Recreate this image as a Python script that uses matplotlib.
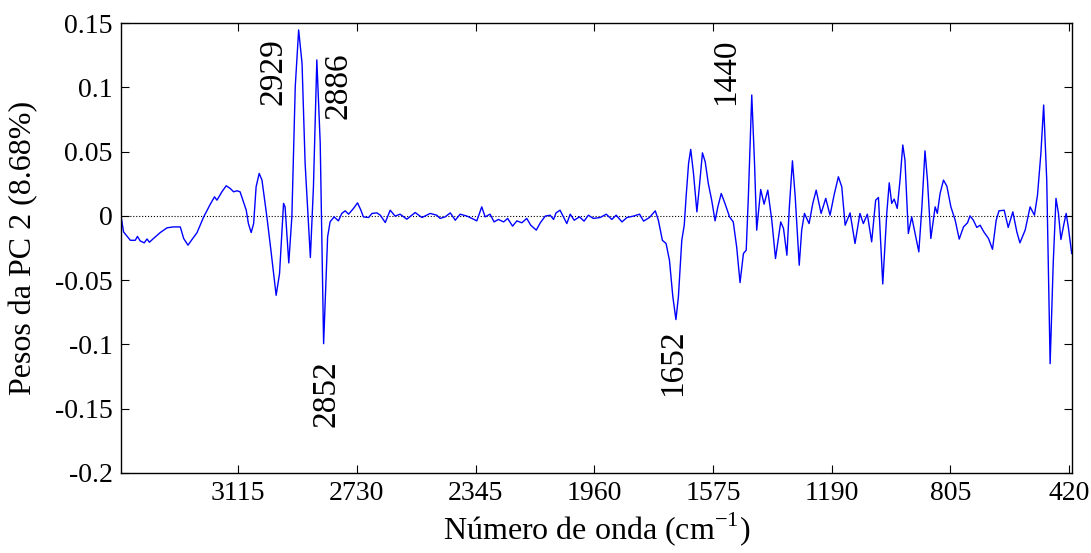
import matplotlib
matplotlib.use("Agg")
import matplotlib.pyplot as plt

# Wavenumber (cm-1) and PC2 loadings.
wavenumber = [
    3494, 3487, 3465, 3449, 3442, 3433, 3420, 3411, 3403, 3390, 3368, 3346, 3325,
    3303, 3292, 3278, 3265, 3249, 3227, 3206, 3192, 3184, 3168, 3154, 3141, 3130,
    3119, 3109, 3089, 3082, 3073, 3065, 3057, 3047, 3038, 3022, 3009, 2992, 2981,
    2968, 2963, 2951, 2941, 2930, 2919, 2908, 2898, 2881, 2871, 2860, 2849, 2838,
    2825, 2817, 2804, 2790, 2779, 2768, 2757, 2741, 2728, 2717, 2709,
    2692, 2681, 2665, 2654, 2638, 2622, 2606, 2590, 2568, 2541, 2519, 2492, 2471,
    2460, 2444, 2427, 2411, 2395, 2373, 2357, 2341, 2325, 2314, 2298, 2285, 2271,
    2254, 2241, 2225, 2211,
    2195, 2179, 2166, 2148, 2135, 2119, 2103, 2092, 2084, 2071, 2060, 2049, 2038,
    2025, 2008, 1993, 1979, 1963, 1941, 1921, 1903, 1889, 1870, 1854, 1833, 1813,
    1800, 1781, 1762, 1752, 1739, 1727, 1716, 1705, 1695, 1687, 1676, 1668, 1662,
    1654, 1647, 1638, 1627, 1619, 1609, 1600, 1590, 1579, 1568, 1559, 1548, 1536,
    1521, 1509, 1498, 1487, 1476, 1467, 1460, 1449, 1440, 1433, 1420, 1409, 1397,
    1384, 1372, 1355, 1346, 1335, 1327, 1317, 1308, 1295, 1287, 1278, 1263, 1251,
    1240, 1224, 1209, 1195, 1182, 1168, 1157, 1146, 1130, 1114, 1098, 1087, 1074,
    1060, 1047, 1038, 1024, 1011, 1003, 995, 987, 977, 968, 959, 952, 941, 930,
    919, 907, 897, 887, 879, 868, 854, 847, 838, 827, 816, 803, 789, 776, 762,
    749, 741, 730, 719, 708, 696, 681, 668, 656, 647, 630, 617, 602, 589, 579,
    562, 546, 532, 522, 511, 502, 492, 481, 471, 462, 454, 446, 436, 429, 422, 411,
]
loading = [
    -0.002, -0.0125, -0.019, -0.019, -0.016, -0.0195, -0.021, -0.018, -0.0205,
    -0.0176, -0.013, -0.0093, -0.0086, -0.0086, -0.0176, -0.0228, -0.0184, -0.0132,
    -0.0008, 0.0089, 0.0148, 0.0122, 0.0187, 0.0234, 0.0213, 0.0187, 0.0195,
    0.0187, 0.0044, -0.006, -0.013, -0.006, 0.0226, 0.033, 0.0278, -0.0008,
    -0.0267, -0.0618, -0.0449, 0.0097, 0.007, -0.0366, -0.0008, 0.1005, 0.1446,
    0.1187, 0.0408, -0.0324, 0.0226, 0.1213, 0.0564, -0.0994, -0.0164, -0.0047,
    -0.0008, -0.0039, 0.0019, 0.0039, 0.0013, 0.0058, 0.0101, 0.0044, -0.0008,
    -0.0013, 0.0019, 0.0023, 0.0005, -0.0052, 0.0044, -0.0002, 0.0013, -0.0026,
    0.0026, -0.0013, 0.0019, 0.0005, -0.002, -0.0008, 0.0023, -0.0034, 0.0013,
    -0.0002, -0.002, -0.0039, 0.007, -0.0008, 0.0013, -0.0047, -0.0028, -0.0047,
    -0.002, -0.008, -0.0039,
    -0.0054, -0.002, -0.0073, -0.0111, -0.0054, -0.0002, 0.0005, -0.0028, 0.0023,
    0.0044, -0.0008, -0.006, 0.0013, -0.0034, -0.0008, -0.0041, 0.0005, -0.002,
    -0.0013, 0.0013, -0.0028, 0.0005, -0.0047, -0.0013, -0.0002, 0.0013, -0.0041,
    -0.0013, 0.0039, -0.0034, -0.019, -0.0215, -0.0345, -0.063, -0.0807, -0.063,
    -0.019, -0.0073, 0.0148, 0.0408, 0.0517, 0.033, 0.0031, 0.0226, 0.049, 0.042,
    0.0252, 0.0122, -0.0039, 0.007, 0.0174, 0.0097, -0.0008, -0.0047, -0.0241,
    -0.0519, -0.0293, -0.0267, 0.015, 0.094, 0.0408, -0.0111, 0.0205, 0.0091,
    0.02, -0.0034, -0.0332, -0.0047, -0.0098, -0.0306, 0.007, 0.0428, 0.0148,
    -0.0384, -0.0111, 0.0019, -0.006, 0.0097, 0.02, 0.0019, 0.0136, 0.0005,
    0.0161, 0.0304, 0.0226, -0.0073, 0.0023, -0.0215, 0.0019, -0.006, 0.0013,
    -0.0202, 0.0122, 0.0143, -0.053, 0.0019, 0.0257, 0.0097, 0.013, 0.0058,
    0.0278, 0.0551, 0.0434, -0.0137, -0.0008, -0.0137, -0.028, 0.007, 0.0506,
    0.0278, -0.0176, 0.007, 0.0019, 0.0174, 0.0278, 0.0231, 0.007, -0.0034,
    -0.0181, -0.0086, -0.0054, 0.0, -0.0034, -0.009, -0.0073, -0.0125, -0.0176,
    -0.026, -0.0034, 0.0039, 0.0044, -0.009, 0.0031, -0.0125, -0.021, -0.0111,
    0.007, 0.0005, 0.0161, 0.0486, 0.0862, 0.0278, -0.115, -0.0371, 0.0136,
    0.0019, -0.0184, -0.006, 0.0019, -0.0088, -0.0293,
]

# Band labels (text, x, y) placed as in the reference.
bands = ["2929", "2886", "2852", "1652", "1440"]
band_x = [3000, 2792, 2830, 1706, 1532]
band_y = [0.112, 0.101, -0.138, -0.114, 0.112]

xticks = [3115, 2730, 2345, 1960, 1575, 1190, 805, 420]
yticks = [0.15, 0.1, 0.05, 0, -0.05, -0.1, -0.15, -0.2]

plt.rcParams['font.family'] = ['Liberation Serif', 'DejaVu Serif']
plt.rcParams['mathtext.fontset'] = 'custom'
plt.rcParams['mathtext.rm'] = 'Liberation Serif'
plt.rcParams['axes.unicode_minus'] = False

fig = plt.figure(figsize=(10.91, 5.53), dpi=100)
ax = fig.add_axes([0.111, 0.1447, 0.8716, 0.8137])

ax.axhline(0, color='black', linestyle=':', linewidth=0.8)
ax.plot(wavenumber, loading, color='blue', linewidth=1.0)

for txt, bx, by in zip(bands, band_x, band_y):
    ax.text(bx, by, txt, rotation=90, fontsize=24, ha='center', va='center',
            family='Liberation Serif')

ax.set_xlim(3495, 410)
ax.set_ylim(-0.2, 0.15)
ax.set_xticks(xticks)
ax.set_xticklabels([str(t) for t in xticks])
ax.set_yticks(yticks)
ax.set_yticklabels(['0.15', '0.1', '0.05', '0', '-0.05', '-0.1', '-0.15', '-0.2'])
ax.tick_params(direction='in', length=6, width=0.8, top=True, right=True,
               labelsize=20, pad=6)
for s in ax.spines.values():
    s.set_linewidth(1.0)

ax.set_xlabel('Número de onda (cm$^{\\mathregular{-1}}$)', fontsize=23, labelpad=3)
ax.set_ylabel('Pesos da PC 2 (8.68%)', fontsize=23, labelpad=12)

fig.savefig('out.png', dpi=100)
